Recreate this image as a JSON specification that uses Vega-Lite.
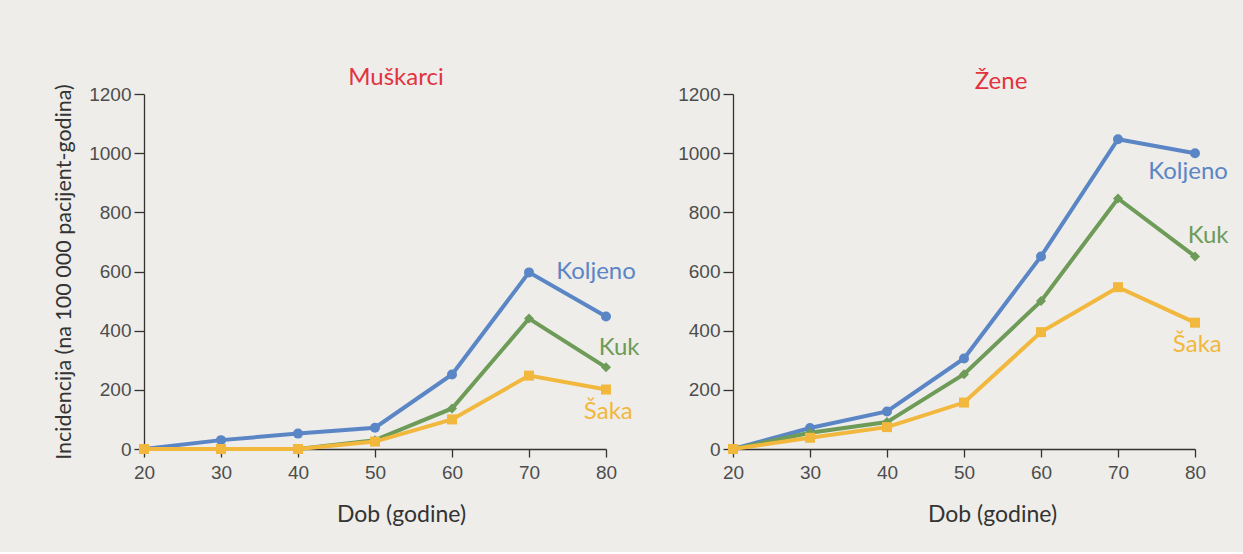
{
  "$schema": "https://vega.github.io/schema/vega-lite/v6.json",
  "background": "#eeede9",
  "padding": {"left": 53, "top": 65, "right": 15, "bottom": 26},
  "spacing": 37,
  "datasets": {
    "d": [
      {"spol": "Muškarci", "serija": "Koljeno", "dob": 20, "incidencija": 0},
      {"spol": "Muškarci", "serija": "Koljeno", "dob": 30, "incidencija": 30},
      {"spol": "Muškarci", "serija": "Koljeno", "dob": 40, "incidencija": 52},
      {"spol": "Muškarci", "serija": "Koljeno", "dob": 50, "incidencija": 72},
      {"spol": "Muškarci", "serija": "Koljeno", "dob": 60, "incidencija": 252},
      {"spol": "Muškarci", "serija": "Koljeno", "dob": 70, "incidencija": 597},
      {"spol": "Muškarci", "serija": "Koljeno", "dob": 80, "incidencija": 448},
      {"spol": "Muškarci", "serija": "Kuk", "dob": 20, "incidencija": 0},
      {"spol": "Muškarci", "serija": "Kuk", "dob": 30, "incidencija": 0},
      {"spol": "Muškarci", "serija": "Kuk", "dob": 40, "incidencija": 0},
      {"spol": "Muškarci", "serija": "Kuk", "dob": 50, "incidencija": 30},
      {"spol": "Muškarci", "serija": "Kuk", "dob": 60, "incidencija": 137},
      {"spol": "Muškarci", "serija": "Kuk", "dob": 70, "incidencija": 441},
      {"spol": "Muškarci", "serija": "Kuk", "dob": 80, "incidencija": 276},
      {"spol": "Muškarci", "serija": "Šaka", "dob": 20, "incidencija": 0},
      {"spol": "Muškarci", "serija": "Šaka", "dob": 30, "incidencija": 0},
      {"spol": "Muškarci", "serija": "Šaka", "dob": 40, "incidencija": 0},
      {"spol": "Muškarci", "serija": "Šaka", "dob": 50, "incidencija": 25},
      {"spol": "Muškarci", "serija": "Šaka", "dob": 60, "incidencija": 100},
      {"spol": "Muškarci", "serija": "Šaka", "dob": 70, "incidencija": 248},
      {"spol": "Muškarci", "serija": "Šaka", "dob": 80, "incidencija": 201},
      {"spol": "Žene", "serija": "Koljeno", "dob": 20, "incidencija": 0},
      {"spol": "Žene", "serija": "Koljeno", "dob": 30, "incidencija": 71},
      {"spol": "Žene", "serija": "Koljeno", "dob": 40, "incidencija": 127},
      {"spol": "Žene", "serija": "Koljeno", "dob": 50, "incidencija": 306},
      {"spol": "Žene", "serija": "Koljeno", "dob": 60, "incidencija": 651},
      {"spol": "Žene", "serija": "Koljeno", "dob": 70, "incidencija": 1047},
      {"spol": "Žene", "serija": "Koljeno", "dob": 80, "incidencija": 1000},
      {"spol": "Žene", "serija": "Kuk", "dob": 20, "incidencija": 0},
      {"spol": "Žene", "serija": "Kuk", "dob": 30, "incidencija": 55},
      {"spol": "Žene", "serija": "Kuk", "dob": 40, "incidencija": 91},
      {"spol": "Žene", "serija": "Kuk", "dob": 50, "incidencija": 253},
      {"spol": "Žene", "serija": "Kuk", "dob": 60, "incidencija": 500},
      {"spol": "Žene", "serija": "Kuk", "dob": 70, "incidencija": 847},
      {"spol": "Žene", "serija": "Kuk", "dob": 80, "incidencija": 651},
      {"spol": "Žene", "serija": "Šaka", "dob": 20, "incidencija": 0},
      {"spol": "Žene", "serija": "Šaka", "dob": 30, "incidencija": 38},
      {"spol": "Žene", "serija": "Šaka", "dob": 40, "incidencija": 74},
      {"spol": "Žene", "serija": "Šaka", "dob": 50, "incidencija": 157},
      {"spol": "Žene", "serija": "Šaka", "dob": 60, "incidencija": 395},
      {"spol": "Žene", "serija": "Šaka", "dob": 70, "incidencija": 547},
      {"spol": "Žene", "serija": "Šaka", "dob": 80, "incidencija": 427}
    ],
    "lab": [
      {"spol": "Muškarci", "serija": "Koljeno", "lx": 78.7, "ly": 598},
      {"spol": "Muškarci", "serija": "Kuk", "lx": 81.7, "ly": 341},
      {"spol": "Muškarci", "serija": "Šaka", "lx": 80.3, "ly": 125},
      {"spol": "Žene", "serija": "Koljeno", "lx": 79.1, "ly": 936},
      {"spol": "Žene", "serija": "Kuk", "lx": 81.7, "ly": 720},
      {"spol": "Žene", "serija": "Šaka", "lx": 80.3, "ly": 352}
    ]
  },
  "config": {
    "view": {"stroke": null},
    "axis": {
      "grid": false,
      "domainColor": "#333333",
      "domainWidth": 1.3,
      "tickColor": "#333333",
      "tickWidth": 1.3,
      "labelColor": "#4d4d4d",
      "labelFont": "Liberation Sans",
      "labelFontSize": 19,
      "labelFlush": false,
      "titleFont": "Lato",
      "titleFontWeight": "normal",
      "titleColor": "#333333"
    }
  },
  "hconcat": [
    {
      "width": 462,
      "height": 355,
      "title": {"text": "Muškarci", "color": "#e2333f", "font": "Lato", "fontSize": 24, "fontWeight": "normal", "dx": 21, "offset": -9},
      "layer": [
        {
          "data": {"name": "d"},
          "transform": [{"filter": "datum.spol == 'Muškarci'"}],
          "mark": {"type": "line", "strokeWidth": 4},
          "encoding": {
            "x": {"field": "dob", "type": "quantitative", "scale": {"domain": [20, 80], "nice": false},
              "axis": {"values": [20, 25, 30, 35, 40, 45, 50, 55, 60, 65, 70, 75, 80], "labelExpr": "datum.value % 10 == 0 ? datum.label : ''", "tickSize": 8, "labelPadding": 6, "title": "Dob (godine)", "titleFontSize": 23, "titlePadding": 21, "titleX": 257}},
            "y": {"field": "incidencija", "type": "quantitative", "scale": {"domain": [0, 1200], "nice": false},
              "axis": {"values": [0, 200, 400, 600, 800, 1000, 1200], "format": "d", "tickSize": 10, "labelPadding": 3, "title": "Incidencija  (na 100 000 pacijent-godina)", "titleFontSize": 21.5, "titlePadding": 13}},
            "color": {"field": "serija", "type": "nominal", "scale": {"domain": ["Šaka", "Koljeno", "Kuk"], "range": ["#f1b83d", "#5b86c6", "#6e9b58"]}, "legend": null}
          }
        },
        {
          "data": {"name": "d"},
          "transform": [{"filter": "datum.spol == 'Muškarci'"}],
          "mark": {"type": "point", "filled": true, "opacity": 1},
          "encoding": {
            "x": {"field": "dob", "type": "quantitative"},
            "y": {"field": "incidencija", "type": "quantitative"},
            "color": {"field": "serija", "type": "nominal", "legend": null},
            "shape": {"field": "serija", "type": "nominal", "scale": {"domain": ["Šaka", "Koljeno", "Kuk"], "range": ["square", "circle", "diamond"]}, "legend": null},
            "size": {"value": 100}
          }
        },
        {
          "data": {"name": "lab"},
          "transform": [{"filter": "datum.spol == 'Muškarci'"}],
          "mark": {"type": "text", "font": "Lato", "fontSize": 24, "baseline": "middle", "align": "center"},
          "encoding": {
            "x": {"field": "lx", "type": "quantitative"},
            "y": {"field": "ly", "type": "quantitative"},
            "text": {"field": "serija"},
            "color": {"field": "serija", "type": "nominal", "legend": null}
          }
        }
      ]
    },
    {
      "width": 462,
      "height": 355,
      "title": {"text": "Žene", "color": "#e2333f", "font": "Lato", "fontSize": 24, "fontWeight": "normal", "dx": 37, "offset": -9},
      "layer": [
        {
          "data": {"name": "d"},
          "transform": [{"filter": "datum.spol == 'Žene'"}],
          "mark": {"type": "line", "strokeWidth": 4},
          "encoding": {
            "x": {"field": "dob", "type": "quantitative", "scale": {"domain": [20, 80], "nice": false},
              "axis": {"values": [20, 25, 30, 35, 40, 45, 50, 55, 60, 65, 70, 75, 80], "labelExpr": "datum.value % 10 == 0 ? datum.label : ''", "tickSize": 8, "labelPadding": 6, "title": "Dob (godine)", "titleFontSize": 23, "titlePadding": 21, "titleX": 259}},
            "y": {"field": "incidencija", "type": "quantitative", "scale": {"domain": [0, 1200], "nice": false},
              "axis": {"values": [0, 200, 400, 600, 800, 1000, 1200], "format": "d", "tickSize": 10, "labelPadding": 3, "title": null}},
            "color": {"field": "serija", "type": "nominal", "scale": {"domain": ["Šaka", "Koljeno", "Kuk"], "range": ["#f1b83d", "#5b86c6", "#6e9b58"]}, "legend": null}
          }
        },
        {
          "data": {"name": "d"},
          "transform": [{"filter": "datum.spol == 'Žene'"}],
          "mark": {"type": "point", "filled": true, "opacity": 1},
          "encoding": {
            "x": {"field": "dob", "type": "quantitative"},
            "y": {"field": "incidencija", "type": "quantitative"},
            "color": {"field": "serija", "type": "nominal", "legend": null},
            "shape": {"field": "serija", "type": "nominal", "scale": {"domain": ["Šaka", "Koljeno", "Kuk"], "range": ["square", "circle", "diamond"]}, "legend": null},
            "size": {"value": 100}
          }
        },
        {
          "data": {"name": "lab"},
          "transform": [{"filter": "datum.spol == 'Žene'"}],
          "mark": {"type": "text", "font": "Lato", "fontSize": 24, "baseline": "middle", "align": "center"},
          "encoding": {
            "x": {"field": "lx", "type": "quantitative"},
            "y": {"field": "ly", "type": "quantitative"},
            "text": {"field": "serija"},
            "color": {"field": "serija", "type": "nominal", "legend": null}
          }
        }
      ]
    }
  ]
}
